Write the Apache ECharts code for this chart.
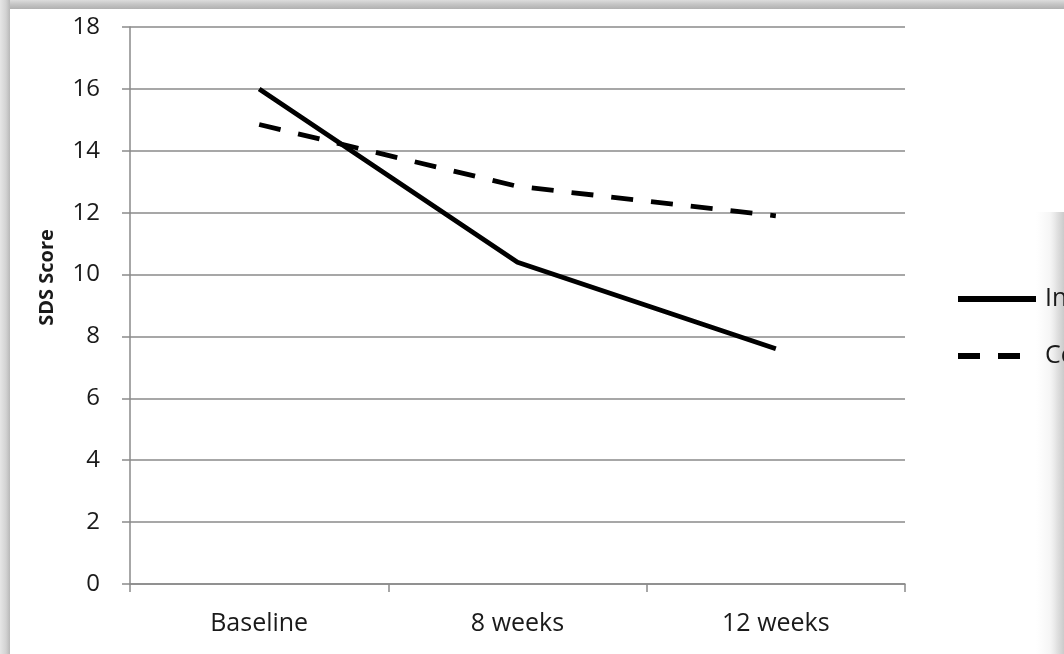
<!DOCTYPE html>
<html>
<head>
<meta charset="utf-8">
<script src="https://cdn.jsdelivr.net/npm/echarts@6/dist/echarts.min.js"></script>
<style>
html,body{margin:0;padding:0;background:#fff;}
#c{width:1064px;height:654px;}
</style>
</head>
<body>
<div id="c"></div>
<script>
const categories = ['Baseline', '8 weeks', '12 weeks'];
const interventionValues = [16.0, 10.4, 7.6];
const controlValues = [14.85, 12.85, 11.9];
const seriesNames = ['Intervention', 'Control'];
const yTicks = {min: 0, max: 18, interval: 2};
const yAxisTitle = 'SDS Score';

const font = '"Open Sans", Lato, sans-serif';
const axisGray = '#8a8a8a';
const textColor = '#1a1a1a';

const chart = echarts.init(document.getElementById('c'));
chart.setOption({
  backgroundColor: '#ffffff',
  animation: false,
  grid: {left: 130, right: 159, top: 27, bottom: 70, containLabel: false},
  legend: {
    orient: 'vertical',
    left: 955,
    top: 284,
    padding: 0,
    itemWidth: 78,
    itemHeight: 14,
    itemGap: 27,
    textStyle: {fontFamily: font, fontSize: 25, color: textColor, lineHeight: 30, padding: [0, 0, 0, 4]},
    lineStyle: {width: 6},
    itemStyle: {opacity: 0},
    data: seriesNames
  },
  xAxis: {
    type: 'category',
    data: categories,
    boundaryGap: true,
    axisLine: {show: true, lineStyle: {color: axisGray, width: 1.5}},
    axisTick: {show: true, length: 8, interval: 0, lineStyle: {color: axisGray, width: 1.5}},
    axisLabel: {fontFamily: font, fontSize: 25, color: textColor, margin: 27}
  },
  yAxis: {
    type: 'value',
    min: yTicks.min,
    max: yTicks.max,
    interval: yTicks.interval,
    name: yAxisTitle,
    nameLocation: 'middle',
    nameRotate: 90,
    nameGap: 73,
    nameTextStyle: {fontFamily: font, fontSize: 20, fontWeight: 'bold', color: textColor, padding: [0, 0, 0, 56]},
    axisLine: {show: true, lineStyle: {color: axisGray, width: 1.5}},
    axisTick: {show: true, length: 8, lineStyle: {color: axisGray, width: 1.5}},
    splitLine: {show: true, lineStyle: {color: axisGray, width: 1.5}},
    axisLabel: {fontFamily: font, fontSize: 24, color: textColor, margin: 30}
  },
  series: [
    {
      name: seriesNames[0], type: 'line', data: interventionValues,
      symbol: 'none', smooth: false,
      lineStyle: {color: '#000', width: 4.8, type: 'solid'},
      itemStyle: {color: '#000'}
    },
    {
      name: seriesNames[1], type: 'line', data: controlValues,
      symbol: 'none', smooth: false,
      lineStyle: {color: '#000', width: 4.8, type: [22, 18]},
      itemStyle: {color: '#000'}
    }
  ],
  graphic: [
    {type: 'rect', z: 100, shape: {x: 0, y: 0, width: 1064, height: 9},
     style: {fill: new echarts.graphic.LinearGradient(0, 0, 0, 1, [
       {offset: 0, color: '#dcdcdc'}, {offset: 0.5, color: '#c4c4c4'}, {offset: 1, color: '#b0b0b0'}])}},
    {type: 'rect', z: 100, shape: {x: 0, y: 0, width: 10, height: 654},
     style: {fill: new echarts.graphic.LinearGradient(0, 0, 1, 0, [
       {offset: 0, color: '#e6e6e6'}, {offset: 0.6, color: '#d2d2d2'}, {offset: 1, color: '#b8b8b8'}])}},
    {type: 'rect', z: 1, shape: {x: 1036, y: 212, width: 28, height: 442},
     style: {fill: new echarts.graphic.LinearGradient(0, 0, 1, 0, [
       {offset: 0, color: 'rgba(240,240,240,0)'}, {offset: 0.5, color: 'rgba(236,236,236,0.5)'},
       {offset: 0.75, color: 'rgba(225,225,225,1)'}, {offset: 1, color: '#cbcbcb'}])}}
  ]
});
</script>
</body>
</html>
